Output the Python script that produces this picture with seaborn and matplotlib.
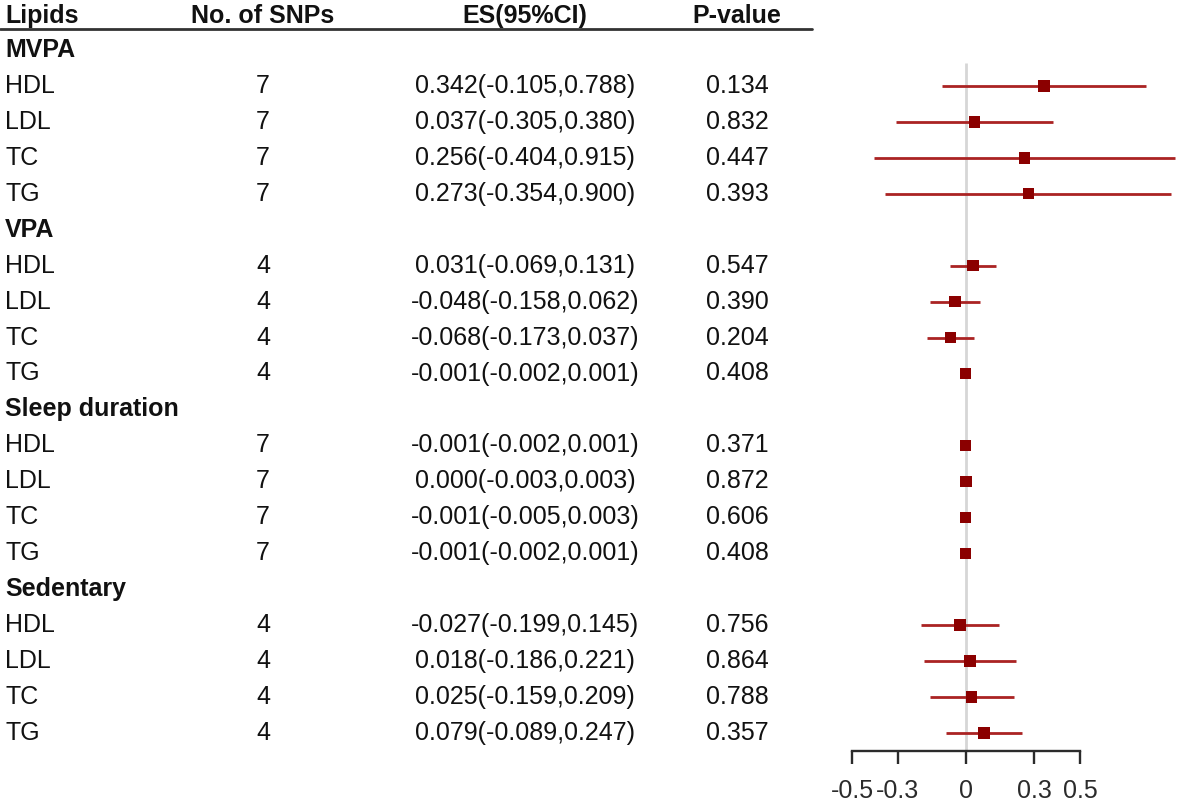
import matplotlib
matplotlib.use("Agg")
import matplotlib.pyplot as plt
from matplotlib import font_manager
import pandas as pd
import seaborn as sns


OUTPUT_FILENAME = "out.png"

# data
groups = ["MVPA", "VPA", "Sleep duration", "Sedentary"]
lipids = ["HDL", "LDL", "TC", "TG"]
snps = [7, 7, 7, 7, 4, 4, 4, 4, 7, 7, 7, 7, 4, 4, 4, 4]
es = [0.342, 0.037, 0.256, 0.273, 0.031, -0.048, -0.068, -0.001,
      -0.001, 0.000, -0.001, -0.001, -0.027, 0.018, 0.025, 0.079]
ci_low = [-0.105, -0.305, -0.404, -0.354, -0.069, -0.158, -0.173, -0.002,
          -0.002, -0.003, -0.005, -0.002, -0.199, -0.186, -0.159, -0.089]
ci_high = [0.788, 0.380, 0.915, 0.900, 0.131, 0.062, 0.037, 0.001,
           0.001, 0.003, 0.003, 0.001, 0.145, 0.221, 0.209, 0.247]
p_values = ["0.134", "0.832", "0.447", "0.393", "0.547", "0.390", "0.204", "0.408",
            "0.371", "0.872", "0.606", "0.408", "0.756", "0.864", "0.788", "0.357"]
headers = ["Lipids", "No. of SNPs", "ES(95%CI)", "P-value"]
x_ticks = [-0.5, -0.3, 0, 0.3, 0.5]
x_tick_labels = ["-0.5", "-0.3", "0", "0.3", "0.5"]


def pick_font():
    names = {f.name for f in font_manager.fontManager.ttflist}
    if "Liberation Sans Narrow" in names:
        return "Liberation Sans Narrow", 21
    return "Liberation Sans", 18


def build_table():
    rows = []
    row = 1
    k = 0
    for g in groups:
        rows.append({"row": row, "label": g, "group": True})
        row += 1
        for lip in lipids:
            rows.append({"row": row, "label": lip, "group": False,
                         "snps": snps[k], "es": es[k], "lo": ci_low[k],
                         "hi": ci_high[k], "p": p_values[k]})
            row += 1
            k += 1
    return pd.DataFrame(rows)


def main():
    sns.set_theme(style="white")
    family, size = pick_font()
    plt.rcParams["font.family"] = [family, "DejaVu Sans"]
    plt.rcParams["axes.unicode_minus"] = False

    df = build_table()
    est = df[~df["group"]].copy()

    W, H = 1181, 808
    fig = plt.figure(figsize=(W / 100, H / 100), dpi=100)

    # row i sits at pixel 14 + 36*i from the top
    def prow(py):
        return (py - 14) / 35.95

    ylim = (prow(H), prow(0))

    tab = fig.add_axes([0, 0, 1, 1])
    tab.set_xlim(0, W)
    tab.set_ylim(*ylim)
    tab.axis("off")

    txt = "#111111"
    col_x = [5, 263, 525, 737]
    tab.text(col_x[0], 0.05, headers[0], ha="left", va="center",
             fontsize=size, fontweight="bold", color=txt)
    for x, h in zip(col_x[1:], headers[1:]):
        tab.text(x, 0.05, h, ha="center", va="center", fontsize=size,
                 fontweight="bold", color=txt)
    tab.plot([0, 812], [prow(28.5), prow(28.5)], color="#333333", lw=2)

    for _, r in df.iterrows():
        if r["group"]:
            tab.text(col_x[0], r["row"], r["label"], ha="left", va="center",
                     fontsize=size, fontweight="bold", color=txt)
            continue
        tab.text(col_x[0], r["row"], r["label"], ha="left", va="center",
                 fontsize=size, color=txt)
        tab.text(col_x[1], r["row"], str(int(r["snps"])), ha="center",
                 va="center", fontsize=size, color=txt)
        es_txt = f"{r['es']:.3f}({r['lo']:.3f},{r['hi']:.3f})"
        tab.text(col_x[2], r["row"], es_txt, ha="center", va="center",
                 fontsize=size, color=txt)
        tab.text(col_x[3], r["row"], r["p"], ha="center", va="center",
                 fontsize=size, color=txt)

    # forest panel, 228 px per unit, zero at pixel 966
    left_px = 830
    ax = fig.add_axes([left_px / W, 0, (W - left_px) / W, 1])
    ax.set_xlim((left_px - 966) / 228, (W - 966) / 228)
    ax.set_ylim(*ylim)
    ax.patch.set_alpha(0)

    ax.vlines(0, prow(63), prow(751), color="#d6d6d6", lw=2, zorder=1)
    ax.hlines(est["row"], est["lo"], est["hi"], color="#aa2323", lw=2.0, zorder=2)
    sns.scatterplot(data=est, x="es", y="row", marker="s", s=68,
                    color="#8b0000", edgecolor="none", ax=ax, zorder=3,
                    legend=False)

    for side in ["top", "right", "left"]:
        ax.spines[side].set_visible(False)
    axis_y = prow(751)
    ax.spines["bottom"].set_position(("data", axis_y))
    ax.spines["bottom"].set_bounds(-0.5, 0.5)
    ax.spines["bottom"].set_linewidth(1.7)
    ax.spines["bottom"].set_color("#2b2b2b")
    ax.set_xticks(x_ticks)
    ax.set_xticklabels(x_tick_labels)
    ax.set_yticks([])
    ax.tick_params(axis="x", direction="out", length=9.5, width=1.7,
                   color="#2b2b2b", pad=11, labelsize=size, labelcolor="#2b2b2b",
                   bottom=True)
    ax.set_xlabel("")
    ax.set_ylabel("")

    fig.savefig(OUTPUT_FILENAME, dpi=100)


if __name__ == "__main__":
    main()
